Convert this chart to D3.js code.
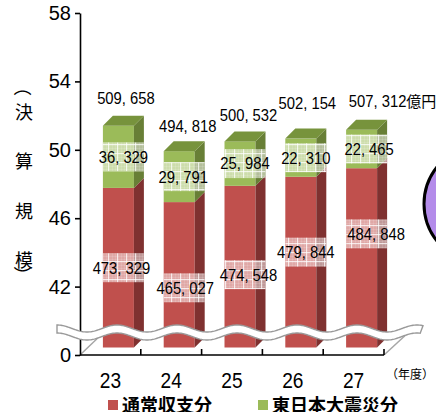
<!DOCTYPE html>
<html><head><meta charset="utf-8">
<script src="https://cdn.jsdelivr.net/npm/d3@7"></script>
<style>
html,body{margin:0;padding:0;background:#fff;overflow:hidden;}
svg{display:block;}
.num{font-family:'Liberation Sans',Arial,sans-serif;}
</style></head>
<body>
<svg id="chart" width="436" height="412"></svg>
<script>
// ---- data ----
const years = ["23", "24", "25", "26", "27"];
const normal = [473329, 465027, 474548, 479844, 484848];   // 通常収支分 (億円)
const quake = [36329, 29791, 25984, 22310, 22465];         // 東日本大震災分 (億円)
const totals = [509658, 494818, 500532, 502154, 507312];   // 決算規模 (億円)
const yTicks = [38, 42, 46, 50, 54, 58];
const yTickLabels = ["0", "42", "46", "50", "54", "58"];
const seriesNames = ["通常収支分", "東日本大震災分"];
const yTitle = ["（", "決", "算", "規", "模", "）"];
const unitLabel = "億円";
const xUnit = "（年度）";

// ---- layout tweaks (pixels) ----
const totalLift = [18, 15, 16.5, 25.5, 19];
const totalDx = [2.5, 3.5, 3.5, 1.5, 11];
const redShift = [0, 13, 8, -10, -24];
const redDx = [-2, 1, 3.5, 0, 9.5];
const greenDx = [0, -1, 0, 0, 2.5];
const SX = 0.87; // horizontal condensation of numeric labels

const svg = d3.select("#chart");

const y = d3.scaleLinear().domain([38, 58]).range([355, 13]);
const x = d3.scaleBand().domain(years).range([80, 384]).padding(0);
const toCho = v => v / 10000;

const barW = 31, fdx = 8, fdy = -7.5, ddx = 10, ddy = -10;
const col = {
  rFront: "#c0504d", rSide: "#7f3130",
  gFront: "#9bbb59", gSide: "#687f36", gTop: "#77933c"
};
const fmt = v => d3.format(",")(v).replace(",", ", ");

function numText(g, cx, cy, str, size, anchor) {
  return g.append("text").attr("class", "num")
    .attr("transform", `translate(${cx},${cy}) scale(${SX},1)`)
    .attr("text-anchor", anchor || "middle").attr("dominant-baseline", "central")
    .attr("font-size", size).attr("fill", "#000").text(str);
}

// defs: checker pattern
const defs = svg.append("defs");
const pat = defs.append("pattern").attr("id", "chk").attr("patternUnits", "userSpaceOnUse")
  .attr("width", 9).attr("height", 9);
pat.append("rect").attr("width", 9).attr("height", 9).attr("fill", "#fff").attr("fill-opacity", 0.5);
pat.append("path").attr("d", "M0,1.5H9M0,4.5H9M0,7.5H9M1.5,0V9M4.5,0V9M7.5,0V9")
  .attr("stroke", "#fff").attr("stroke-opacity", 0.12).attr("stroke-width", 1);
pat.append("path").attr("d", "M0,0.5H9M0.5,0V9")
  .attr("stroke", "#fff").attr("stroke-opacity", 0.75).attr("stroke-width", 1);

// purple shape at right edge (part of neighbouring figure)
svg.append("ellipse").attr("cx", 500).attr("cy", 204).attr("rx", 76).attr("ry", 66)
  .attr("fill", "#b48cea").attr("stroke", "#000").attr("stroke-width", 3);

// floor edges
const floorG = svg.append("g").attr("stroke", "#a6a6a6").attr("stroke-width", 1.5);
floorG.append("line").attr("x1", x.range()[0]).attr("y1", y(38)).attr("x2", x.range()[0] + 23).attr("y2", y(38) - 22);
floorG.append("line").attr("x1", x.range()[1]).attr("y1", y(38)).attr("x2", x.range()[1] + 25).attr("y2", y(38) - 23);

// bars
const bars = svg.append("g");
function face(g, x0, v0, v1, front, side, top) {
  const yt = y(v1) + fdy, yb = y(v0) + fdy, x1 = x0 + barW;
  g.append("rect").attr("x", x0).attr("y", yt).attr("width", barW).attr("height", yb - yt).attr("fill", front);
  g.append("polygon").attr("points", [[x1, yt], [x1 + ddx, yt + ddy], [x1 + ddx, yb + ddy], [x1, yb]].join(" ")).attr("fill", side);
  if (top) g.append("polygon").attr("points", [[x0, yt], [x0 + ddx, yt + ddy], [x1 + ddx, yt + ddy], [x1, yt]].join(" ")).attr("fill", top);
}
const barX0 = i => x(years[i]) + x.bandwidth() / 2 - barW / 2 + fdx;
years.forEach((yr, i) => {
  const g = bars.append("g");
  const x0 = barX0(i);
  const vR = toCho(normal[i]), vT = toCho(normal[i] + quake[i]);
  face(g, x0, 38, vR, col.rFront, col.rSide, null);
  face(g, x0, vR, vT, col.gFront, col.gSide, col.gTop);
});

// segment labels with checker bands
const lab = svg.append("g");
const bandH = 29;
years.forEach((yr, i) => {
  const x0 = barX0(i);
  const vR = toCho(normal[i]), vT = toCho(normal[i] + quake[i]);
  const rMid = (y(38) + y(vR)) / 2 + fdy + redShift[i];
  const gMid = (y(vR) + y(vT)) / 2 + fdy;
  [[rMid, normal[i], redDx[i]], [gMid, quake[i], greenDx[i]]].forEach(([cy, v, dx]) => {
    lab.append("rect").attr("x", x0).attr("y", cy - bandH / 2).attr("width", barW + ddx).attr("height", bandH)
      .attr("fill", "url(#chk)");
    numText(lab, x0 + (barW + ddx) / 2 + dx, cy, fmt(v), 17);
  });
  // totals
  const backTop = y(toCho(normal[i] + quake[i])) + fdy + ddy;
  const cx = x0 + (barW + ddx) / 2 + totalDx[i], cy = backTop - totalLift[i];
  const t = numText(lab, cx, cy, fmt(totals[i]), 17);
  if (i === years.length - 1) {
    const len = t.node().getComputedTextLength() * SX;
    lab.append("text").attr("x", cx + len / 2).attr("y", cy).attr("dominant-baseline", "central")
      .attr("font-family", "'Noto Sans CJK JP',sans-serif").attr("font-size", 15).attr("fill", "#000").text(unitLabel);
  }
});

// axes
const yAxis = d3.axisLeft(y).tickValues(yTicks).tickFormat((d, i) => yTickLabels[i]).tickSize(5).tickSizeOuter(0).tickPadding(4);
const yg = svg.append("g").attr("transform", "translate(80,0)").call(yAxis);
yg.select(".domain").attr("stroke", "#000").attr("stroke-width", 1.6);
yg.selectAll(".tick line").attr("stroke", "#000").attr("stroke-width", 1.6);
yg.selectAll(".tick text").attr("font-family", "'Liberation Sans',Arial,sans-serif").attr("font-size", 20).attr("fill", "#000");

const xg = svg.append("g");
xg.append("line").attr("x1", x.range()[0]).attr("x2", x.range()[1]).attr("y1", y(38)).attr("y2", y(38))
  .attr("stroke", "#000").attr("stroke-width", 1.6);
xg.selectAll("line.tk").data(years).join("line").attr("class", "tk")
  .attr("x1", d => x(d) + x.step()).attr("x2", d => x(d) + x.step())
  .attr("y1", y(38)).attr("y2", y(38) - 6).attr("stroke", "#000").attr("stroke-width", 1.6);
years.forEach(d => numText(xg, x(d) + x.bandwidth() / 2, 380, d, 22));
xg.append("text").attr("x", 386).attr("y", 373).attr("dominant-baseline", "central")
  .attr("font-family", "'Noto Sans CJK JP',sans-serif").attr("font-size", 12).attr("fill", "#000").text(xUnit);

// wave break
const x0w = 57, x1w = 423, P = 60, A = 3.5, yc = 328.5, th = 8;
const topY = xx => yc - A * Math.cos(2 * Math.PI * (xx - 117) / P);
const pts = d3.range(x0w, x1w + 0.5, 1);
let d = "M" + pts.map(xx => [xx, topY(xx)].join(",")).join("L");
d += "L" + [x1w - 3, topY(x1w) + th].join(",");
d += "L" + pts.slice().reverse().filter(xx => xx <= x1w - 3).map(xx => [xx, topY(xx) + th].join(",")).join("L") + "Z";
svg.append("path").attr("d", d).attr("fill", "#fff").attr("stroke", "#999").attr("stroke-width", 1.4);

// vertical title (parentheses turned to vertical form)
const titleY = [87, 111, 160, 210, 259, 275];
svg.append("g").selectAll("text").data(yTitle).join("text")
  .attr("transform", (c, i) => `translate(24,${titleY[i]})` + ((i === 0 || i === yTitle.length - 1) ? " rotate(90)" : ""))
  .attr("text-anchor", "middle").attr("dominant-baseline", "central")
  .attr("font-family", "'Noto Sans CJK JP',sans-serif").attr("font-size", 18).attr("fill", "#000").text(c => c);

// legend
const legendColors = [col.rFront, col.gFront];
const legX = [108, 258];
const lg = svg.append("g");
seriesNames.forEach((n, i) => {
  lg.append("rect").attr("x", legX[i]).attr("y", 400).attr("width", 10).attr("height", 10).attr("fill", legendColors[i]);
  lg.append("text").attr("x", legX[i] + 14).attr("y", 404).attr("dominant-baseline", "central")
    .attr("font-family", "'Noto Sans CJK JP',sans-serif").attr("font-weight", "bold").attr("font-size", 18)
    .attr("fill", "#000").text(n);
});
</script>
</body></html>
